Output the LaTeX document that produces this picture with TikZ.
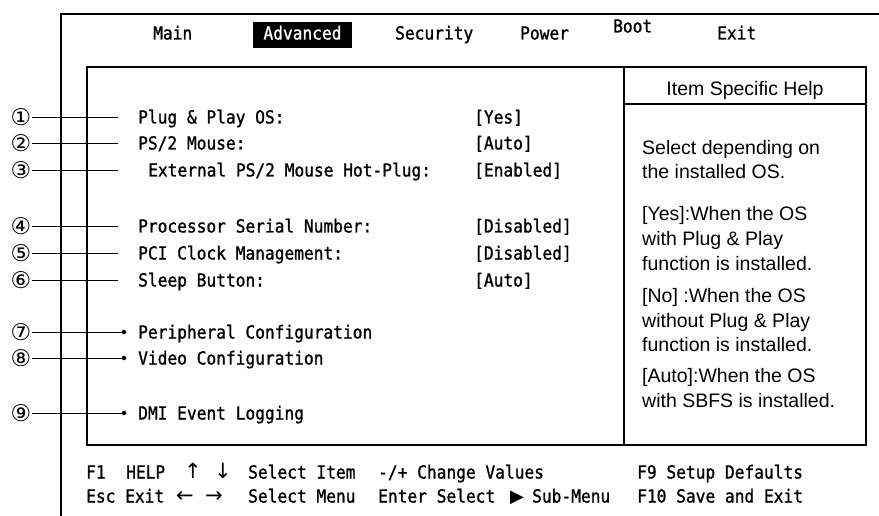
\documentclass[tikz,border=0pt]{standalone}
\usepackage{fontspec}
\setmainfont{Liberation Sans}
\newfontfamily\biosfont[FakeStretch=0.9, FakeBold=1.2]{DejaVu Sans Mono}
\newfontfamily\markfont{DejaVu Sans}
\newcommand\keyarrow[1]{{\markfont\fontsize{21}{20}\selectfont #1}}
\usetikzlibrary{calc}

\tikzset{
  bios/.style={font=\biosfont\fontsize{18}{20}\selectfont, inner sep=0pt, anchor=west, text height=13pt, text depth=4pt},
  helptext/.style={font=\fontsize{19.5}{24}\selectfont, inner sep=0pt, anchor=base west},
  callout/.style={font=\markfont\fontsize{23}{24}\selectfont, inner sep=0pt},
  leader/.style={line width=0.9pt},
  dot/.style={circle, fill=black, inner sep=0pt, minimum size=4.5pt}
}

\begin{document}
\begin{tikzpicture}[x=1pt,y=-1pt]
\useasboundingbox (0,0) rectangle (879,516);
\draw[line width=2pt] (61,516) -- (61,14) -- (879,14);
\draw[line width=1.4pt] (87,67) rectangle (866,445);
\draw[line width=1.4pt] (624,67) -- (624,445);
\draw[line width=1.2pt] (624,104) -- (866,104);

\node[bios] (mmain) at (153,35) {Main};
\node[bios, anchor=center, fill=black, text=white, minimum width=99pt, minimum height=26pt] (madv) at (302.5,35) {Advanced};
\node[bios] (msec) at (395,35) {Security};
\node[bios] (mpow) at (520,35) {Power};
\node[bios] (mboot) at (613,28) {Boot};
\node[bios] (mexit) at (717,35) {Exit};

\foreach \n/\y/\x/\mk/\txt/\val in {1/117/138/①/{Plug \& Play OS:}/{[Yes]},
    2/143/138/②/{PS/2 Mouse:}/{[Auto]},
    3/170/148/③/{External PS/2 Mouse Hot-Plug:}/{[Enabled]},
    4/226/138/④/{Processor Serial Number:}/{[Disabled]},
    5/253/138/⑤/{PCI Clock Management:}/{[Disabled]},
    6/280/138/⑥/{Sleep Button:}/{[Auto]}}
{
  \node[callout] (num\n) at (21,\y) {\mk};
  \node[bios] (item\n) at (\x,\y+2) {\txt};
  \node[bios] (val\n) at (474,\y+2) {\val};
  \coordinate (tip\n) at (118,\y);
  \draw[leader] (num\n) -- (tip\n);
}
\foreach \n/\y/\mk/\txt in {7/332/⑦/Peripheral Configuration, 8/358/⑧/Video Configuration, 9/413/⑨/DMI Event Logging}
{
  \node[callout] (num\n) at (21,\y) {\mk};
  \node[dot] (dot\n) at (124,\y) {};
  \node[bios] (item\n) at (138,\y+2) {\txt};
  \draw[leader] (num\n) -- (dot\n);
}

\node[helptext, anchor=center] (helphead) at (745,90) {Item Specific Help};
\foreach \y/\txt [count=\i] in {148/Select depending on, 172/the installed OS.,
    214/{[Yes]:When the OS}, 239/with Plug \& Play, 263/function is installed.,
    295/{[No] :When the OS}, 320/without Plug \& Play, 344/function is installed.,
    375/{[Auto]:When the OS}, 400/with SBFS is installed.}
  \node[helptext] (help\i) at (642,\y+7) {\txt};

\foreach \x/\txt [count=\i] in {86/F1, 126/HELP, 184/\keyarrow{↑}, 214/\keyarrow{↓}, 248/Select Item,
    378/{-/+ Change Values}, 637/F9 Setup Defaults}
  \node[bios] (keyA\i) at (\x,474) {\txt};
\foreach \x/\txt [count=\i] in {86/Esc, 125/Exit, 176/\keyarrow{←}, 205/\keyarrow{→}, 248/Select Menu,
    378/Enter Select, 510/{\markfont ▶}, 532/Sub-Menu, 637/F10 Save and Exit}
  \node[bios] (keyB\i) at (\x,498) {\txt};
\end{tikzpicture}
\end{document}
